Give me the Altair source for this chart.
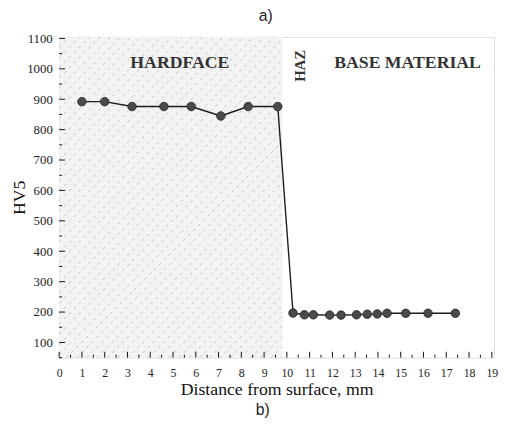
import altair as alt
import pandas as pd
import numpy as np

# data
dist_mm = [1.0, 2.0, 3.2, 4.6, 5.8, 7.1, 8.3, 9.6,
           10.27, 10.77, 11.16, 11.88, 12.38, 13.06, 13.53, 13.97, 14.4, 15.22, 16.2, 17.4]
hv5 = [892, 892, 876, 876, 876, 845, 876, 876,
       197, 191, 191, 190, 190, 191, 193, 194, 196, 196, 196, 196]

x_ticks = list(range(0, 20))
x_minor = [i + 0.5 for i in range(0, 19)]
y_ticks = list(range(100, 1101, 100))
y_minor = list(range(50, 1101, 100))

zone_labels = ["HARDFACE", "BASE MATERIAL"]
zone_label_x = [5.3, 15.3]
zone_label_y = [1020, 1020]
haz_label = ["HAZ"]
haz_x = [10.6]
haz_y = [1010]
hardface_end = 9.8

X_DOM = [0, 19.1]
Y_DOM = [50, 1105]
W, H = 442, 326

df = pd.DataFrame({"x": dist_mm, "y": hv5})

xs = alt.Scale(domain=X_DOM, nice=False, zero=False)
ys = alt.Scale(domain=Y_DOM, nice=False, zero=False)

x_axis = alt.Axis(values=x_ticks, ticks=False, domain=False, grid=False, format="d",
                  labelOverlap=False, labelFlush=False,
                  labelFont="Liberation Serif", labelFontSize=12, labelColor="#222",
                  labelPadding=10, title="Distance from surface, mm",
                  titleFont="Liberation Serif", titleFontSize=18, titleFontWeight="normal",
                  titleColor="#111", titlePadding=2)
y_axis = alt.Axis(values=y_ticks, ticks=False, domain=False, grid=False, format="d",
                  labelOverlap=False, labelFlush=False,
                  labelFont="Liberation Serif", labelFontSize=13, labelColor="#222",
                  labelPadding=7, title="HV5",
                  titleFont="Liberation Serif", titleFontSize=18, titleFontWeight="normal",
                  titleColor="#111", titlePadding=-2)


def X(f):
    return alt.X(f, scale=xs, axis=x_axis)


def Y(f):
    return alt.Y(f, scale=ys, axis=y_axis)


# hatched region (decoration)
region = alt.Chart(pd.DataFrame({"x0": [0], "x1": [hardface_end], "y0": [Y_DOM[0]], "y1": [Y_DOM[1]]})).mark_rect(
    color="#f3f3f3").encode(x=X("x0:Q"), x2="x1:Q", y=Y("y0:Q"), y2="y1:Q")

slope = (W / (X_DOM[1] - X_DOM[0])) / (H / (Y_DOM[1] - Y_DOM[0]))
span = (Y_DOM[1] - Y_DOM[0]) / slope
segs = []
for c in np.arange(-span, hardface_end, 0.45):
    xa = max(0.0, c)
    xb = min(hardface_end, c + span)
    if xb <= xa:
        continue
    segs.append({"xa": xa, "ya": Y_DOM[0] + slope * (xa - c),
                 "xb": xb, "yb": Y_DOM[0] + slope * (xb - c)})
hatch = alt.Chart(pd.DataFrame(segs)).mark_rule(
    color="#a8a8a8", strokeWidth=0.7, strokeDash=[3, 4]).encode(
    x=X("xa:Q"), y=Y("ya:Q"), x2="xb:Q", y2="yb:Q")

line = alt.Chart(df).mark_line(color="#1a1a1a", strokeWidth=1.4).encode(x=X("x:Q"), y=Y("y:Q"))

points = alt.Chart(df).mark_circle(size=75, color="#4a4a4a", opacity=1, stroke="#222", strokeWidth=0.8).encode(
    x=X("x:Q"), y=Y("y:Q"))

xt = alt.Chart(pd.DataFrame({"v": x_ticks})).mark_rule(color="#111").encode(
    x=X("v:Q"), y=alt.value(H), y2=alt.value(H - 6))
xtm = alt.Chart(pd.DataFrame({"v": x_minor})).mark_rule(color="#111").encode(
    x=X("v:Q"), y=alt.value(H), y2=alt.value(H - 3))
yt = alt.Chart(pd.DataFrame({"v": y_ticks})).mark_rule(color="#111").encode(
    y=Y("v:Q"), x=alt.value(0), x2=alt.value(6))
ytm = alt.Chart(pd.DataFrame({"v": y_minor})).mark_rule(color="#111").encode(
    y=Y("v:Q"), x=alt.value(0), x2=alt.value(3))

zones = alt.Chart(pd.DataFrame({"t": zone_labels, "x": zone_label_x, "y": zone_label_y})).mark_text(
    font="Liberation Serif", fontSize=18, fontWeight="bold", color="#333").encode(
    x=X("x:Q"), y=Y("y:Q"), text="t:N")
haz = alt.Chart(pd.DataFrame({"t": haz_label, "x": haz_x, "y": haz_y})).mark_text(
    font="Liberation Serif", fontSize=15, fontWeight="bold", color="#333", angle=270).encode(
    x=X("x:Q"), y=Y("y:Q"), text="t:N")

blabel = alt.Chart(pd.DataFrame({"t": ["b)"]})).mark_text(
    font="Liberation Sans", fontSize=16, color="#222").encode(
    x=alt.value(207), y=alt.value(379), text="t:N")

chart = alt.layer(region, hatch, line, points, xt, xtm, yt, ytm, zones, haz, blabel).properties(
    width=W, height=H,
    title=alt.TitleParams("a)", font="Liberation Sans", fontSize=16, fontWeight="normal",
                          color="#222", anchor="middle", dx=-11, offset=9),
    autosize=alt.AutoSizeParams(type="none"),
    padding={"left": 52, "top": 26, "right": 5, "bottom": 62},
).configure_view(stroke="#111", strokeWidth=1.2).configure(background="white")

chart.save("out.html", embed_options={"renderer": "svg", "actions": False})
